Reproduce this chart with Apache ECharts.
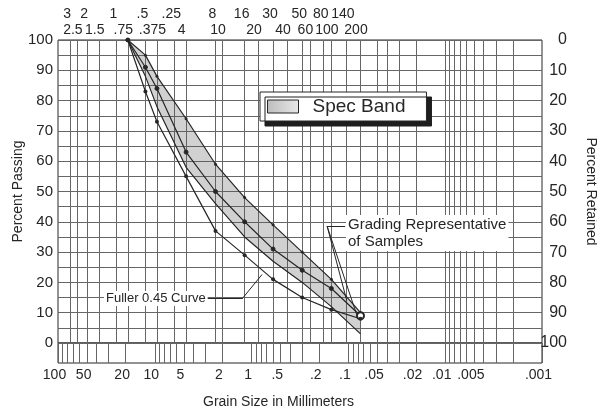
<!DOCTYPE html>
<html>
<head>
<meta charset="utf-8">
<script src="https://cdn.jsdelivr.net/npm/echarts@6/dist/echarts.min.js"></script>
<style>
  html, body { margin: 0; padding: 0; background: #fff; }
  #chart { width: 597px; height: 417px; }
</style>
</head>
<body>
<div id="chart"></div>
<script>
  // sieve openings (mm) the gradings were read at
  const sizes = [19, 12.5, 9.5, 4.75, 2.36, 1.18, 0.6, 0.3, 0.15, 0.075]
  const specUpper = [100, 95, 88, 74, 59, 48, 39, 30, 21, 10]
  const specLower = [100, 88, 78, 58, 46, 35, 27, 20, 12, 3]
  const grading = [100, 91, 84, 63, 50, 40, 31, 24, 18, 9]
  const fuller = [100, 83, 73, 55, 37, 29, 21, 15, 11, 8]

  // sieve names along the top, two staggered rows
  const upperRowSizes = [75, 50, 25, 12.5, 6.3, 2.36, 1.18, 0.6, 0.3, 0.18, 0.106]
  const upperRowLabels = ['3', '2', '1', '.5', '.25', '8', '16', '30', '50', '80', '140']
  const lowerRowSizes = [63, 37.5, 19, 9.5, 4.75, 2.0, 0.85, 0.425, 0.25, 0.15, 0.075]
  const lowerRowLabels = ['2.5', '1.5', '.75', '.375', '4', '10', '20', '40', '60', '100', '200']
  // finer sizes ruled below the #200 sieve
  const fineSizes = [0.05, 0.04, 0.03, 0.02, 0.01, 0.009, 0.008, 0.007, 0.006, 0.005, 0.004, 0.003, 0.002]
  // grain size scale at the bottom (mm)
  const grainTicks = [100, 50, 20, 10, 5, 2, 1, 0.5, 0.2, 0.1, 0.05, 0.02, 0.01, 0.005, 0.001]

  // log cycle rulings for the bottom strip
  let cycleLines = [100]
  for (let e = -3; e <= 1; e++) {
    for (let m = 1; m <= 9; m++) {
      cycleLines.push(parseFloat((m * Math.pow(10, e)).toPrecision(3)))
    }
  }

  const font = 'Arial, "Liberation Sans", Helvetica, sans-serif'
  const ink = '#262626'
  const rule = '#666'

  const pairs = vals => sizes.map((s, i) => [s, vals[i]])
  const shortNum = v => String(v).replace(/^0\./, '.')
  const pickLabel = (vals, labels) => v => {
    let best = 0
    vals.forEach((s, i) => {
      if (Math.abs(Math.log(s / v)) < Math.abs(Math.log(vals[best] / v))) best = i
    })
    return labels[best]
  }

  const chart = echarts.init(document.getElementById('chart'))

  const logBase = {
    type: 'log',
    min: 0.001,
    max: 100,
    inverse: true
  }

  const option = {
    animation: false,
    grid: [
      {left: 58, right: 55, top: 40, bottom: 74, outerBoundsMode: 'none',
        show: true, borderColor: ink, borderWidth: 1},
      {left: 58, right: 55, top: 343, bottom: 54, outerBoundsMode: 'none',
        show: true, borderColor: ink, borderWidth: 1}
    ],
    legend: {
      data: [{
        name: 'Spec Band',
        icon: 'rect',
        itemStyle: {
          color: {type: 'linear', x: 0, y: 0, x2: 1, y2: 0,
            colorStops: [{offset: 0, color: '#bdbdbd'}, {offset: 1, color: '#e8e8e8'}]},
          borderColor: ink,
          borderWidth: 1
        }
      }],
      left: 260,
      top: 92,
      padding: [5, 21, 5, 7],
      itemWidth: 31,
      itemHeight: 13,
      selectedMode: false,
      backgroundColor: '#fff',
      borderColor: ink,
      borderWidth: 1,
      shadowColor: '#1e1e1e',
      shadowBlur: 0,
      shadowOffsetX: 5,
      shadowOffsetY: 5,
      textStyle: {fontSize: 19, color: ink, fontFamily: font, padding: [0, 0, 0, 9]}
    },
    xAxis: [
      Object.assign({}, logBase, {
        gridIndex: 0,
        position: 'bottom',
        axisLine: {show: false},
        axisLabel: {show: false},
        axisTick: {show: false, customValues: upperRowSizes.concat(lowerRowSizes, fineSizes)},
        splitLine: {show: true, lineStyle: {color: rule, width: 1}}
      }),
      Object.assign({}, logBase, {
        gridIndex: 0,
        position: 'top',
        axisLine: {show: false},
        axisTick: {show: false},
        splitLine: {show: false},
        axisLabel: {
          customValues: lowerRowSizes,
          formatter: pickLabel(lowerRowSizes, lowerRowLabels),
          margin: 3, fontSize: 14, color: ink, fontFamily: font,
          padding: [0, 9, 0, 0]
        }
      }),
      Object.assign({}, logBase, {
        gridIndex: 0,
        position: 'top',
        offset: 16,
        axisLine: {show: false},
        axisTick: {show: false},
        splitLine: {show: false},
        axisLabel: {
          customValues: upperRowSizes,
          formatter: pickLabel(upperRowSizes, upperRowLabels),
          margin: 3, fontSize: 14, color: ink, fontFamily: font,
          padding: [0, 6, 0, 0]
        }
      }),
      Object.assign({}, logBase, {
        gridIndex: 1,
        position: 'bottom',
        axisLine: {show: false},
        axisTick: {show: false, customValues: cycleLines},
        splitLine: {show: true, lineStyle: {color: rule, width: 1}},
        axisLabel: {
          customValues: grainTicks,
          formatter: v => shortNum(v),
          margin: 5, fontSize: 14, color: ink, fontFamily: font,
          padding: [0, 7, 0, 0]
        }
      })
    ],
    yAxis: [
      {
        gridIndex: 0,
        type: 'value',
        min: 0,
        max: 100,
        interval: 10,
        position: 'left',
        name: 'Percent Passing',
        nameLocation: 'middle',
        nameGap: 33,
        nameMoveOverlap: false,
        nameTextStyle: {fontSize: 14, color: ink, fontFamily: font},
        axisLine: {show: false},
        axisTick: {show: false},
        axisLabel: {fontSize: 15, color: ink, fontFamily: font, margin: 5},
        splitLine: {show: true, lineStyle: {color: rule}},
        minorTick: {show: false, splitNumber: 2},
        minorSplitLine: {show: true, lineStyle: {color: rule}}
      },
      {
        gridIndex: 0,
        type: 'value',
        min: 0,
        max: 100,
        interval: 10,
        inverse: true,
        position: 'right',
        name: 'Percent Retained',
        nameLocation: 'middle',
        nameGap: 42,
        nameRotate: -90,
        nameTextStyle: {fontSize: 14, color: ink, fontFamily: font},
        axisLine: {show: false},
        axisTick: {show: false},
        axisLabel: {fontSize: 16, color: ink, fontFamily: font, margin: 25, align: 'right'},
        splitLine: {show: false}
      },
      {
        gridIndex: 1,
        type: 'value',
        min: -7,
        max: 0,
        axisLine: {show: false},
        axisTick: {show: false},
        axisLabel: {show: false},
        splitLine: {show: false}
      }
    ],
    graphic: [
      {
        type: 'text', left: 104, top: 291, z: 10,
        style: {text: 'Fuller 0.45 Curve', fontSize: 13, fontFamily: font, fill: ink,
          backgroundColor: '#fff', padding: [1, 2, 1, 2]}
      },
      {
        type: 'text', left: 346, top: 215, z: 10,
        style: {text: 'Grading Representative\nof Samples', fontSize: 15, lineHeight: 17,
          fontFamily: font, fill: ink, backgroundColor: '#fff', padding: [1, 2, 1, 2]}
      },
      {
        type: 'text', left: 203, top: 395, z: 10,
        style: {text: 'Grain Size in Millimeters', fontSize: 14, fontFamily: font, fill: ink}
      }
    ],
    series: [
      {
        name: 'Spec Band',
        type: 'custom',
        xAxisIndex: 0,
        yAxisIndex: 0,
        data: [[sizes[0], specUpper[0]]],
        itemStyle: {color: '#c4c4c4'},
        renderItem: (params, api) => {
          const top = sizes.map((s, i) => api.coord([s, specUpper[i]]))
          const bottom = sizes.map((s, i) => api.coord([s, specLower[i]])).reverse()
          return {
            type: 'polygon',
            shape: {points: top.concat(bottom)},
            style: {fill: 'rgba(90,90,90,0.28)'}
          }
        }
      },
      {
        name: 'upper limit',
        type: 'line',
        data: pairs(specUpper),
        symbol: 'circle',
        symbolSize: 3,
        itemStyle: {color: ink},
        lineStyle: {color: ink, width: 1.2}
      },
      {
        name: 'lower limit',
        type: 'line',
        data: pairs(specLower),
        symbol: 'none',
        lineStyle: {color: ink, width: 1.2}
      },
      {
        name: 'Grading',
        type: 'line',
        data: pairs(grading).map((p, i) => i === sizes.length - 1
          ? {value: p, symbol: 'emptyCircle', symbolSize: 7}
          : p),
        symbol: 'circle',
        symbolSize: 4,
        itemStyle: {color: ink, borderColor: ink},
        lineStyle: {color: ink, width: 1.2},
        markLine: {
          silent: true,
          symbol: ['none', 'none'],
          label: {show: false},
          lineStyle: {color: ink, width: 1, type: 'solid'},
          data: [
            [{coord: [0.108, 38.6]}, {coord: [0.166, 38.6]}],
            [{coord: [0.166, 38.6]}, {coord: [0.082, 9.3]}],
            [{coord: [0.166, 38.6]}, {coord: [0.104, 14.0]}]
          ]
        }
      },
      {
        name: 'Fuller 0.45',
        type: 'line',
        data: pairs(fuller),
        symbol: 'circle',
        symbolSize: 4,
        itemStyle: {color: ink},
        lineStyle: {color: ink, width: 1.2},
        markLine: {
          silent: true,
          symbol: ['none', 'none'],
          label: {show: false},
          lineStyle: {color: ink, width: 1, type: 'solid'},
          data: [
            [{coord: [2.9, 14.9]}, {coord: [1.23, 14.9]}],
            [{coord: [1.23, 14.9]}, {coord: [0.78, 22.6]}]
          ]
        }
      }
    ]
  }

  chart.setOption(option, true)
</script>
</body>
</html>
